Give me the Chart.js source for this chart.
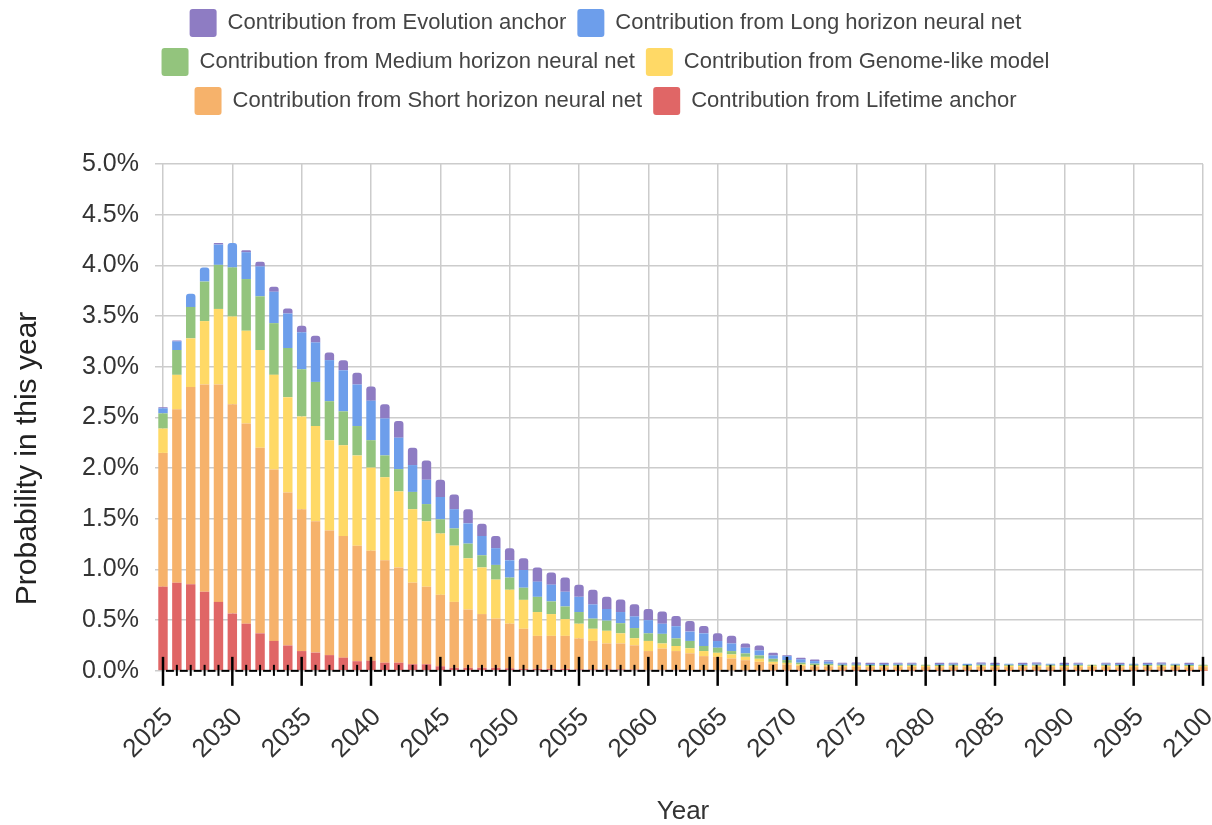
<!DOCTYPE html>
<html>
<head>
<meta charset="utf-8">
<script src="https://cdn.jsdelivr.net/npm/chart.js@4.4.1/dist/chart.umd.min.js"></script>
<style>
  html, body { margin: 0; padding: 0; background: #fff; }
  #wrap { width: 1212px; height: 825px; }
</style>
</head>
<body>
<div id="wrap"><canvas id="chart"></canvas></div>
<script>
const years = [];
for (let y = 2025; y <= 2100; y++) years.push(String(y));

// values in percent, one entry per year 2025..2100
const lifetime = [
  0.83, 0.87, 0.855, 0.78, 0.68, 0.565, 0.465, 0.37, 0.295, 0.25,
  0.195, 0.18, 0.155, 0.13, 0.095, 0.10, 0.08, 0.08, 0.065, 0.065,
  0.045, 0.03, 0.03, 0.03, 0.03, 0.025, 0.02, 0.02, 0.02, 0.02,
  0.015, 0.015, 0.015, 0.015, 0.012, 0.01, 0.01, 0.01, 0.008, 0.008,
  0.008, 0.006, 0.005, 0.005, 0.004, 0.004, 0.003, 0.003, 0.003, 0.002,
  0.002, 0.002, 0.002, 0.002, 0.002, 0.002, 0.002, 0.002, 0.002, 0.002,
  0.002, 0.002, 0.002, 0.002, 0.002, 0.002, 0.002, 0.002, 0.002, 0.002,
  0.002, 0.002, 0.002, 0.002, 0.002, 0.002
];
const shortHorizon = [
  1.32, 1.71, 1.945, 2.045, 2.145, 2.065, 1.975, 1.83, 1.69, 1.51,
  1.40, 1.295, 1.23, 1.20, 1.14, 1.085, 1.01, 0.94, 0.805, 0.765,
  0.705, 0.65, 0.575, 0.53, 0.485, 0.44, 0.395, 0.325, 0.325, 0.325,
  0.305, 0.28, 0.255, 0.255, 0.24, 0.185, 0.21, 0.185, 0.165, 0.137,
  0.13, 0.116, 0.10, 0.084, 0.065, 0.058, 0.045, 0.04, 0.04, 0.035,
  0.036, 0.035, 0.034, 0.035, 0.036, 0.035, 0.034, 0.035, 0.035, 0.036,
  0.034, 0.035, 0.035, 0.036, 0.035, 0.034, 0.035, 0.036, 0.035, 0.034,
  0.035, 0.035, 0.036, 0.035, 0.034, 0.035
];
const genome = [
  0.24, 0.34, 0.48, 0.625, 0.745, 0.865, 0.915, 0.965, 0.935, 0.94,
  0.915, 0.94, 0.89, 0.895, 0.89, 0.82, 0.82, 0.75, 0.725, 0.645,
  0.605, 0.555, 0.505, 0.46, 0.385, 0.335, 0.285, 0.235, 0.215, 0.165,
  0.145, 0.12, 0.125, 0.10, 0.07, 0.10, 0.05, 0.05, 0.05, 0.05,
  0.04, 0.04, 0.033, 0.03, 0.02, 0.017, 0.015, 0.013, 0.012, 0.012,
  0.012, 0.011, 0.012, 0.012, 0.011, 0.012, 0.012, 0.012, 0.011, 0.012,
  0.012, 0.012, 0.011, 0.012, 0.012, 0.012, 0.012, 0.011, 0.012, 0.012,
  0.012, 0.011, 0.012, 0.012, 0.012, 0.012
];
const mediumHorizon = [
  0.15, 0.245, 0.31, 0.39, 0.435, 0.485, 0.51, 0.53, 0.51, 0.485,
  0.465, 0.435, 0.385, 0.335, 0.29, 0.27, 0.215, 0.22, 0.17, 0.17,
  0.14, 0.17, 0.145, 0.12, 0.145, 0.12, 0.12, 0.15, 0.125, 0.125,
  0.115, 0.10, 0.10, 0.10, 0.10, 0.075, 0.095, 0.075, 0.072, 0.05,
  0.05, 0.033, 0.034, 0.033, 0.03, 0.027, 0.017, 0.015, 0.014, 0.01,
  0.01, 0.01, 0.01, 0.01, 0.01, 0.012, 0.01, 0.01, 0.01, 0.01,
  0.01, 0.01, 0.01, 0.01, 0.01, 0.01, 0.01, 0.012, 0.01, 0.01,
  0.01, 0.01, 0.01, 0.01, 0.01, 0.012
];
const longHorizon = [
  0.05, 0.085, 0.13, 0.14, 0.20, 0.24, 0.265, 0.295, 0.31, 0.34,
  0.365, 0.39, 0.405, 0.405, 0.41, 0.39, 0.365, 0.31, 0.265, 0.24,
  0.22, 0.19, 0.20, 0.19, 0.165, 0.17, 0.175, 0.15, 0.165, 0.145,
  0.15, 0.14, 0.115, 0.11, 0.115, 0.13, 0.10, 0.12, 0.092, 0.125,
  0.066, 0.075, 0.056, 0.049, 0.033, 0.039, 0.033, 0.025, 0.022, 0.01,
  0.01, 0.01, 0.01, 0.01, 0.01, 0.0, 0.01, 0.01, 0.012, 0.01,
  0.01, 0.012, 0.01, 0.01, 0.01, 0.01, 0.01, 0.0, 0.01, 0.01,
  0.012, 0.01, 0.01, 0.012, 0.01, 0.0
];
const evolution = [
  0.01, 0.01, 0.0, 0.0, 0.015, 0.0, 0.02, 0.045, 0.05, 0.05,
  0.065, 0.065, 0.075, 0.10, 0.115, 0.14, 0.14, 0.165, 0.17, 0.19,
  0.17, 0.145, 0.14, 0.12, 0.12, 0.12, 0.115, 0.14, 0.12, 0.14,
  0.12, 0.145, 0.12, 0.125, 0.12, 0.11, 0.12, 0.10, 0.105, 0.072,
  0.076, 0.077, 0.042, 0.05, 0.026, 0.01, 0.017, 0.016, 0.014, 0.012,
  0.012, 0.012, 0.012, 0.012, 0.012, 0.0, 0.012, 0.012, 0.0, 0.012,
  0.012, 0.0, 0.012, 0.012, 0.0, 0.012, 0.012, 0.0, 0.012, 0.012,
  0.0, 0.012, 0.012, 0.0, 0.012, 0.0
];
const yTicks = [0, 0.5, 1.0, 1.5, 2.0, 2.5, 3.0, 3.5, 4.0, 4.5, 5.0];
const yTitle = 'Probability in this year';

const FONT = "'Liberation Sans', Arial, sans-serif";

// black baseline with year ticks, like the sheets chart
const baselineTicks = {
  id: 'baselineTicks',
  afterDatasetsDraw(chart) {
    const ctx = chart.ctx;
    const x = chart.scales.x;
    const y0 = chart.scales.y.getPixelForValue(0);
    ctx.save();
    ctx.strokeStyle = '#000';
    for (let i = 0; i < years.length; i++) {
      const px = x.getPixelForValue(i);
      const major = i % 5 === 0;
      ctx.beginPath();
      ctx.lineWidth = major ? 2.5 : 2;
      ctx.moveTo(px, y0 - (major ? 14 : 6));
      ctx.lineTo(px, y0 + (major ? 15 : 5));
      ctx.stroke();
      if (i < years.length - 1) {
        const nx = x.getPixelForValue(i + 1);
        ctx.lineWidth = 2;
        ctx.beginPath();
        ctx.moveTo(px + 3, y0);
        ctx.lineTo(nx - 3, y0);
        ctx.stroke();
      }
    }
    ctx.restore();
  }
};

// y title sits a bit below the middle of the plot in the original
const yAxisTitle = {
  id: 'yAxisTitle',
  afterDraw(chart) {
    const ctx = chart.ctx;
    const area = chart.chartArea;
    ctx.save();
    ctx.translate(28, (area.top + area.bottom) / 2 + 41);
    ctx.rotate(-Math.PI / 2);
    ctx.font = '30px ' + FONT;
    ctx.fillStyle = '#222';
    ctx.textAlign = 'center';
    ctx.textBaseline = 'middle';
    ctx.fillText(yTitle, 0, 0);
    ctx.restore();
  }
};

const legendGap = {
  id: 'legendGap',
  beforeInit(chart) {
    const fit = chart.legend.fit;
    chart.legend.fit = function () {
      fit.call(this);
      this.height += 39;
    };
  }
};

function ds(label, data, color) {
  return {
    label: label,
    data: data,
    backgroundColor: color,
    borderWidth: 0,
    borderRadius: 3,
    barPercentage: 0.85,
    categoryPercentage: 0.8,
    clip: false
  };
}

new Chart(document.getElementById('chart'), {
  type: 'bar',
  data: {
    labels: years,
    datasets: [
      ds('Contribution from Lifetime anchor', lifetime, '#e06666'),
      ds('Contribution from Short horizon neural net', shortHorizon, '#f6b26b'),
      ds('Contribution from Genome-like model', genome, '#ffd966'),
      ds('Contribution from Medium horizon neural net', mediumHorizon, '#93c47d'),
      ds('Contribution from Long horizon neural net', longHorizon, '#6d9eeb'),
      ds('Contribution from Evolution anchor', evolution, '#8e7cc3')
    ]
  },
  options: {
    responsive: true,
    maintainAspectRatio: false,
    animation: false,
    layout: { padding: { left: 8, right: 9, top: -2, bottom: -2 } },
    plugins: {
      tooltip: { enabled: false },
      legend: {
        position: 'top',
        reverse: true,
        labels: {
          font: { family: FONT, size: 22 },
          color: '#444',
          boxWidth: 27,
          boxHeight: 28,
          padding: 11,
          useBorderRadius: true,
          borderRadius: 3
        }
      }
    },
    scales: {
      x: {
        stacked: true,
        offset: false,
        afterFit: axis => { axis.paddingLeft = 0; axis.paddingRight = 0; },
        grid: {
          offset: false,
          drawTicks: false,
          lineWidth: 1.5,
          color: ctx => (ctx.index % 5 === 0 ? '#cccccc' : 'rgba(0,0,0,0)')
        },
        border: { display: false },
        ticks: {
          autoSkip: false,
          maxRotation: 45,
          minRotation: 45,
          padding: 31,
          labelOffset: 6,
          color: '#333',
          font: { family: FONT, size: 26 },
          callback: function (value, index) {
            return index % 5 === 0 ? years[index] : '';
          }
        },
        title: {
          display: true,
          text: 'Year',
          color: '#333',
          font: { family: FONT, size: 26 },
          padding: { top: 0, bottom: 0 }
        }
      },
      y: {
        stacked: true,
        min: 0,
        max: 5,
        afterBuildTicks: axis => { axis.ticks = yTicks.map(v => ({ value: v })); },
        afterFit: axis => { axis.width = 155; },
        grid: {
          color: '#cccccc',
          lineWidth: 1.5,
          tickLength: 8
        },
        border: { display: false },
        ticks: {
          padding: 16,
          color: '#333',
          font: { family: FONT, size: 25 },
          callback: v => v.toFixed(1) + '%'
        }
      }
    }
  },
  plugins: [baselineTicks, yAxisTitle, legendGap]
});
</script>
</body>
</html>
